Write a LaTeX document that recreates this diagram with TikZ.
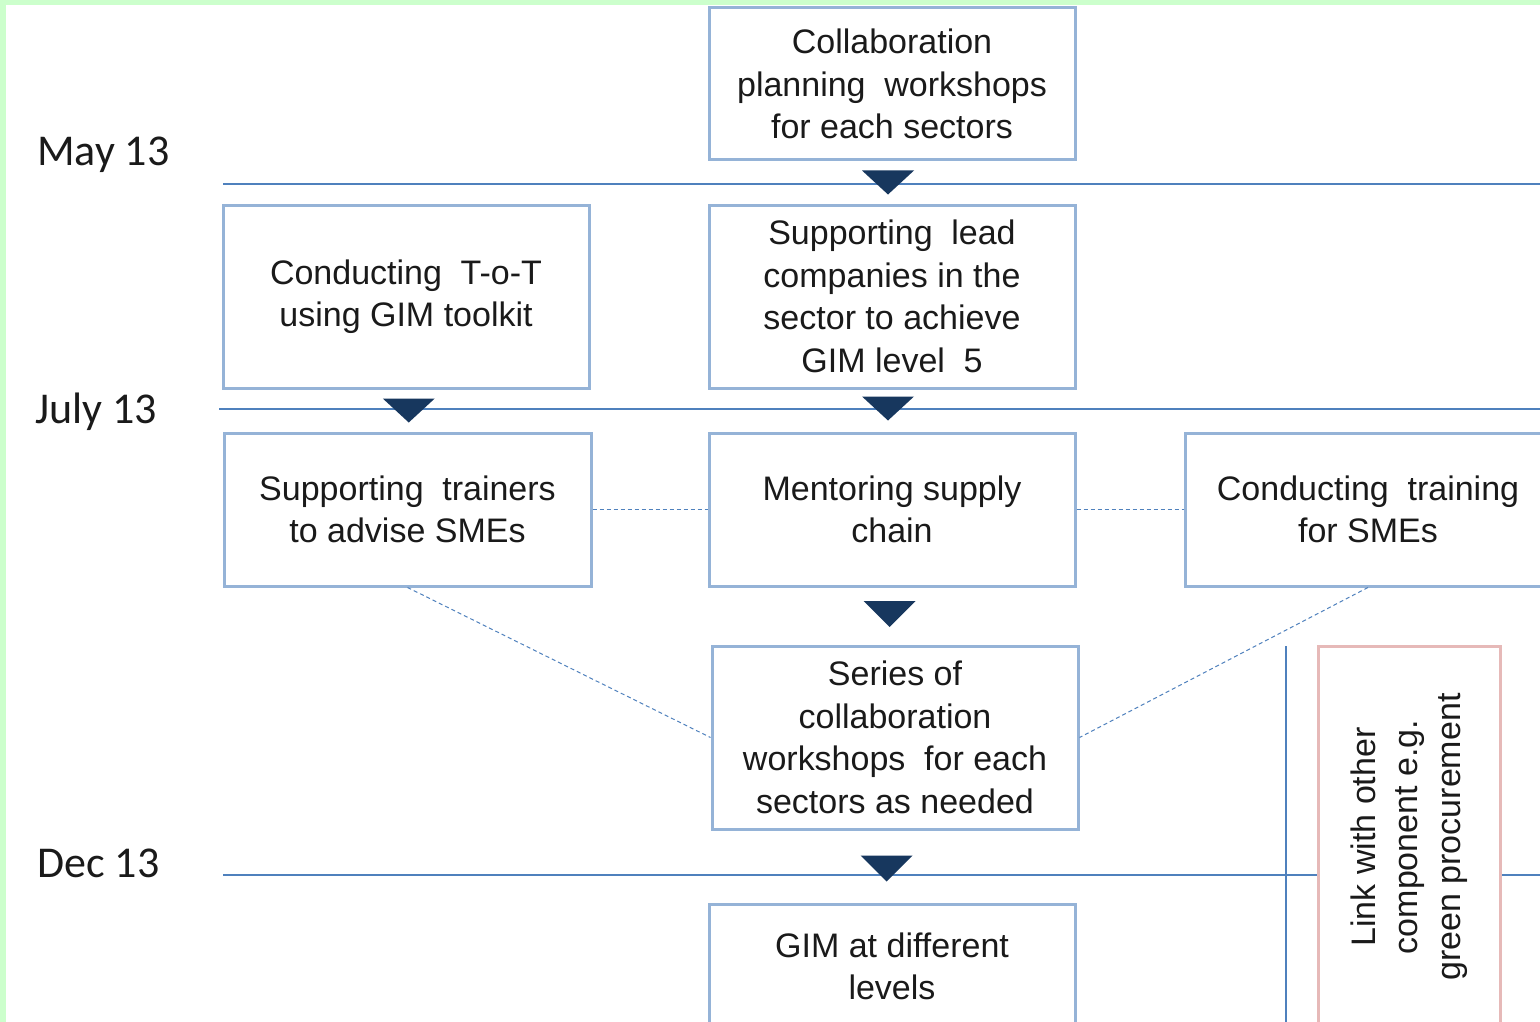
\documentclass[tikz,border=0pt]{standalone}
\usepackage{fontspec}
\setmainfont{Liberation Sans}
\newfontfamily\datefont{Carlito}
\usetikzlibrary{calc}
\definecolor{bggreen}{HTML}{CCFFCC}
\definecolor{boxblue}{HTML}{95B3D7}
\definecolor{lineblue}{HTML}{4F81BD}
\definecolor{navyblue}{HTML}{17375E}
\definecolor{pinkb}{HTML}{E6B9B8}
\definecolor{txt}{HTML}{1A1A1A}
\newcommand{\wsp}{\hspace{0.55em}}
\begin{document}
\begin{tikzpicture}[x=1pt,y=-1pt,
  box/.style={draw=boxblue, line width=3pt, fill=white, inner sep=0pt, align=center,
    text=txt, font=\fontsize{34}{42.5}\selectfont, minimum width=366pt},
  pinkbox/.style={draw=pinkb, line width=3pt, fill=white, inner sep=0pt, align=center,
    text=txt, font=\fontsize{34}{42.5}\selectfont},
  datelbl/.style={anchor=base west, inner sep=0pt, text=txt, font=\datefont\fontsize{44}{50}\selectfont},
  timeline/.style={draw=lineblue, line width=1.2pt},
  dashlink/.style={draw=lineblue, line width=1pt, dash pattern=on 4pt off 3pt},
  tri/.style={fill=navyblue}
]
\clip (0,0) rectangle (1540,1022);
\fill[bggreen] (0,0) rectangle (1540,1022);
\fill[white] (6,5) rectangle (1540,1022);

% timeline coordinates
\coordinate (l1s) at (223,184); \coordinate (l1e) at (1540,184);
\coordinate (l2s) at (219,409); \coordinate (l2e) at (1540,409);
\coordinate (l3s) at (223,875); \coordinate (l3e) at (1540,875);
\coordinate (vtop) at (1286,646); \coordinate (vbot) at (1286,1022);

\draw[timeline] (l1s) -- (l1e);
\draw[timeline] (l2s) -- (l2e);
\draw[timeline] (l3s) -- (l3e);
\draw[draw=lineblue, line width=2pt] (vtop) -- (vbot);

% dates
\node[datelbl] (may) at (37,165) {May 13};
\node[datelbl] (jul) at (35,423) {July 13};
\node[datelbl] (dec) at (37,877) {Dec 13};

% boxes
\node[box, minimum height=152pt] (b1) at (892,84) {Collaboration\\planning\wsp workshops\\for each sectors};
\node[box, minimum height=183pt] (b2) at (406,296.5) {Conducting\wsp T-o-T\\using GIM toolkit};
\node[box, minimum height=183pt] (b3) at (892,296.5) {Supporting\wsp lead\\companies in the\\sector to achieve\\GIM level\wsp 5};
\node[box, minimum height=153pt, minimum width=367pt] (b4) at (407.5,509.5) {Supporting\wsp trainers\\to advise SMEs};
\node[box, minimum height=153pt] (b5) at (892,509.5) {Mentoring supply\\chain};
\node[box, minimum height=153pt] (b6) at (1368,509.5) {Conducting\wsp training\\for SMEs};
\node[box, minimum height=183pt] (b7) at (895,737.5) {Series of\\collaboration\\workshops\wsp for each\\sectors as needed};
\node[box, minimum height=125pt] (b8) at (892,966.5) {GIM at different\\levels};
\node[pinkbox, rotate=90, minimum width=382pt, minimum height=182pt] (pk) at (1409,837)
  {Link with other\\component e.g.\\green procurement};

% dashed links
\draw[dashlink] (b4.east) -- (b5.west);
\draw[dashlink] (b5.east) -- (b6.west);
\draw[dashlink] (b4.south) -- (b7.west);
\draw[dashlink] (b6.south) -- (b7.east);

% triangles (flow arrows)
\fill[tri] ($(b1.south)!.5!(b3.north)+(-4,0)$) +(-26,-12) -- +(26,-12) -- +(0,12) -- cycle;
\fill[tri] ($(b2.south)!.5!(b4.north)+(2,0)$) +(-26,-12) -- +(26,-12) -- +(0,12) -- cycle;
\fill[tri] ($(b3.south)!.5!(b5.north)+(-4,-2)$) +(-26,-12) -- +(26,-12) -- +(0,12) -- cycle;
\fill[tri] ($(b5.south)!.5!(b7.north)+(-4,-2)$) +(-26,-13) -- +(26,-13) -- +(0,13) -- cycle;
\fill[tri] ($(b7.south)!.5!(b8.north)+(-7,2)$) +(-26,-13) -- +(26,-13) -- +(0,13) -- cycle;
\end{tikzpicture}
\end{document}
